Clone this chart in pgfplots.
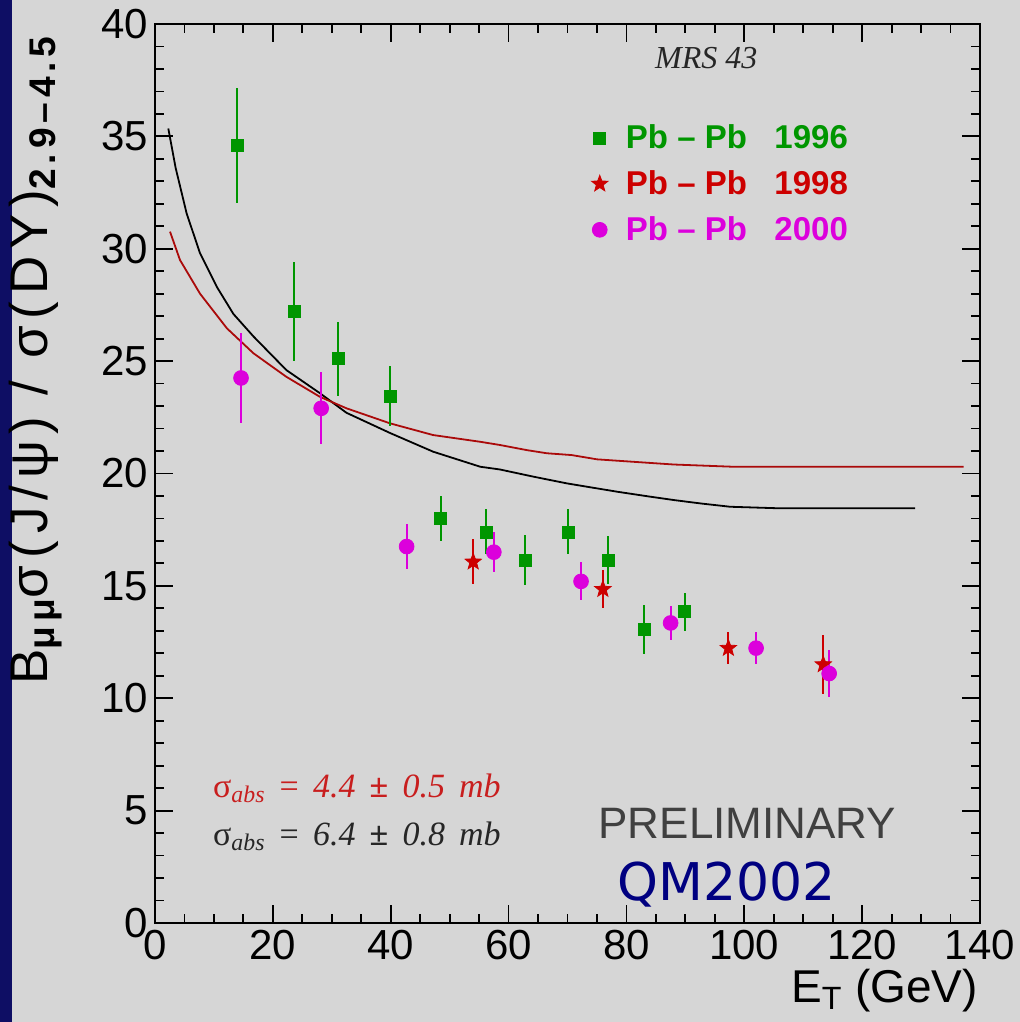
\documentclass[border=0pt]{standalone}
\usepackage{pgfplots}
\pgfplotsset{compat=1.18}
\usepackage{fontspec}
\setmainfont{Liberation Sans}
\newfontfamily\timesfont{Liberation Serif}
\newfontfamily\qmfont{DejaVu Sans}
\newfontfamily\ylabfont[LetterSpace=13]{Liberation Sans}
\definecolor{bgc}{RGB}{214,214,214}
\definecolor{stripc}{RGB}{14,14,100}
\definecolor{cgreen}{RGB}{0,150,0}
\definecolor{cred}{RGB}{205,0,0}
\definecolor{cmag}{RGB}{220,0,220}
\definecolor{ccurve}{RGB}{170,10,10}
\definecolor{cnavy}{RGB}{0,0,128}
\definecolor{csig}{RGB}{200,30,30}
\pgfdeclareplotmark{fstar}{%
  \pgfpathmoveto{\pgfpointpolar{90}{\pgfplotmarksize}}%
  \pgfpathlineto{\pgfpointpolar{126}{0.42\pgfplotmarksize}}%
  \pgfpathlineto{\pgfpointpolar{162}{\pgfplotmarksize}}%
  \pgfpathlineto{\pgfpointpolar{198}{0.42\pgfplotmarksize}}%
  \pgfpathlineto{\pgfpointpolar{234}{\pgfplotmarksize}}%
  \pgfpathlineto{\pgfpointpolar{270}{0.42\pgfplotmarksize}}%
  \pgfpathlineto{\pgfpointpolar{306}{\pgfplotmarksize}}%
  \pgfpathlineto{\pgfpointpolar{342}{0.42\pgfplotmarksize}}%
  \pgfpathlineto{\pgfpointpolar{18}{\pgfplotmarksize}}%
  \pgfpathlineto{\pgfpointpolar{54}{0.42\pgfplotmarksize}}%
  \pgfpathclose\pgfusepathqfillstroke}
\begin{document}
\begin{tikzpicture}
\fill[bgc] (-77.5pt,-49.5pt) rectangle (432.5pt,461.5pt);
\fill[stripc] (-77.5pt,-49.5pt) rectangle (-71.5pt,461.5pt);
\useasboundingbox (-77.5pt,-49.5pt) rectangle (432.5pt,461.5pt);
\begin{axis}[
  scale only axis, width=412.5pt, height=449.5pt,
  xmin=0, xmax=140, ymin=0, ymax=40,
  xtick={0,20,...,140}, ytick={0,5,...,40},
  minor x tick num=3, minor y tick num=4,
  tick align=inside, major tick length=9pt, minor tick length=4.5pt,
  axis line style={line width=1pt}, every tick/.style={line width=0.9pt, black},
  tick label style={font=\fontsize{21}{25}\selectfont},
  /pgf/number format/assume math mode=true,
  xlabel={E\textsubscript{T} (GeV)},
  xlabel style={font=\fontsize{23}{27}\selectfont, at={(axis description cs:1.006,-0.075)}, anchor=east},
  ylabel={B\textsubscript{\bfseries μμ}σ(J/ψ)\ /\ σ(DY)\textsubscript{\bfseries 2.9–4.5}},
  ylabel style={font=\ylabfont\fontsize{26.5}{30}\selectfont, at={(axis description cs:-0.145,0.626)}, anchor=center},
  legend style={at={(axis cs:73,35.9)}, anchor=north west, draw=none, fill=none,
    font=\fontsize{16.5}{19}\selectfont\bfseries, row sep=5.5pt, legend cell align=left,
    /tikz/every odd column/.style={column sep=7pt}},
  error bars/error mark=none,
]
\addplot[black, line width=0.9pt, forget plot] coordinates {
(2.26,35.35)(3.5,33.6)(5.37,31.57)(7.64,29.8)(10.5,28.3)(13.3,27.1)(16.7,26.1)(22.3,24.6)(28.0,23.57)(32.5,22.7)(39.9,21.8)(47.2,20.97)(55.2,20.3)(58.5,20.18)(64.2,19.86)(69.9,19.56)(78.4,19.19)(84.0,18.97)(88.0,18.82)(92.5,18.67)(97.6,18.52)(106.1,18.45)(129.0,18.45)};
\addplot[ccurve, line width=0.9pt, forget plot] coordinates {
(2.55,30.76)(4.24,29.5)(7.64,28.0)(12.2,26.46)(16.7,25.35)(22.3,24.3)(28.0,23.41)(32.5,22.9)(39.9,22.23)(47.2,21.71)(55.2,21.41)(58.5,21.27)(63.1,21.04)(66.5,20.9)(70.7,20.82)(75.0,20.63)(81.2,20.52)(88.0,20.4)(98.1,20.3)(137.2,20.3)};
\addplot[only marks, mark=square*, mark size=3pt, color=cgreen,
  error bars/.cd, y dir=both, y explicit, error bar style={line width=1pt, cgreen}]
coordinates {
(13.9,34.6) +- (0,2.55)
(23.6,27.2) +- (0,2.2)
(31.1,25.1) +- (0,1.65)
(39.9,23.45) +- (0,1.35)
(48.5,18.0) +- (0,1.0)
(56.2,17.4) +- (0,1.0)
(62.8,16.15) +- (0,1.1)
(70.1,17.4) +- (0,1.0)
(76.9,16.15) +- (0,1.05)
(83.0,13.05) +- (0,1.1)
(89.9,13.85) +- (0,0.85)};
\addlegendentry{\textcolor{cgreen}{Pb -- Pb\ \ \ 1996}}
\addplot[only marks, mark=fstar, mark size=4.3pt, color=cred,
  error bars/.cd, y dir=both, y explicit, error bar style={line width=1pt, cred}]
coordinates {
(54.0,16.07) +- (0,1.0)
(76.0,14.85) +- (0,0.85)
(97.3,12.23) +- (0,0.7)
(113.4,11.5) +- (0,1.3)};
\addlegendentry{\textcolor{cred}{Pb -- Pb\ \ \ 1998}}
\addplot[only marks, mark=*, mark size=3.7pt, color=cmag,
  error bars/.cd, y dir=both, y explicit, error bar style={line width=1pt, cmag}]
coordinates {
(14.6,24.25) +- (0,2.0)
(28.2,22.9) +- (0,1.6)
(42.7,16.75) +- (0,1.0)
(57.5,16.5) +- (0,0.9)
(72.3,15.2) +- (0,0.85)
(87.5,13.35) +- (0,0.75)
(102.0,12.23) +- (0,0.7)
(114.4,11.1) +- (0,1.05)};
\addlegendentry{\textcolor{cmag}{Pb -- Pb\ \ \ 2000}}
\node[anchor=base west, inner sep=0pt, text=black!85, font=\timesfont\itshape\fontsize{16}{19}\selectfont] at (axis cs:84.8,38.04) {MRS 43};
\node[anchor=base west, inner sep=0pt, text=csig, font=\timesfont\fontsize{17}{20}\selectfont] at (axis cs:9.8,5.6) {σ\textsubscript{\itshape abs}\,\ =\,\ \itshape 4.4\,\ {\upshape\bfseries ±}\,\ 0.5\,\ mb};
\node[anchor=base west, inner sep=0pt, text=black!85, font=\timesfont\fontsize{17}{20}\selectfont] at (axis cs:9.8,3.47) {σ\textsubscript{\itshape abs}\,\ =\,\ \itshape 6.4\,\ {\upshape\bfseries ±}\,\ 0.8\,\ mb};
\node[anchor=base west, inner sep=0pt, text=black!75, font=\fontsize{22}{25}\selectfont] at (axis cs:75.2,3.78) {PRELIMINARY};
\node[anchor=base west, inner sep=0pt, text=cnavy, font=\qmfont\fontsize{26}{30}\selectfont] at (axis cs:78.4,1.02) {QM2002};
\end{axis}
\end{tikzpicture}
\end{document}
